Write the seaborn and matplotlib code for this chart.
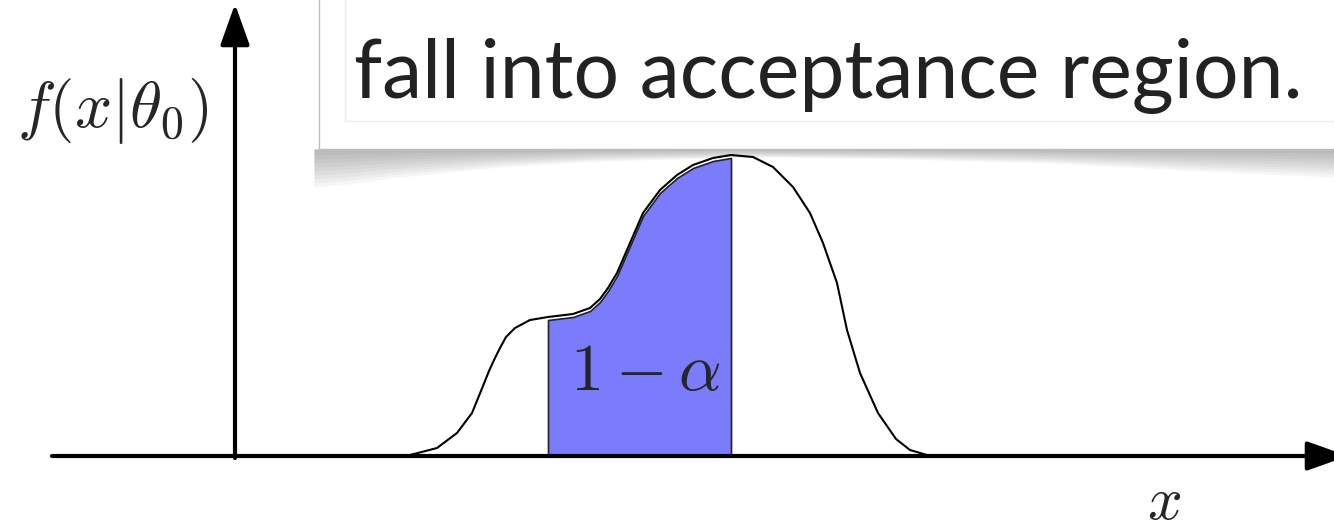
import numpy as np
import pandas as pd
import seaborn as sns
import matplotlib.pyplot as plt
from matplotlib.patches import Rectangle

# curve: x position and height above the x axis (pixels)
curve_x = [380, 405, 414, 437, 457, 472, 483, 489, 495, 500, 506, 515, 530, 548,
           573, 590, 600, 608, 617, 630, 643, 660, 677, 693, 713, 731, 753, 773,
           793, 810, 823, 837, 847, 860, 878, 896, 910, 927, 935]
curve_h = [0, 0, 2, 8, 23, 43, 70, 85, 98, 108, 119, 128, 136, 139,
           142, 148, 157, 168, 183, 213, 243, 266, 281, 291, 298, 301, 299, 289,
           269, 243, 213, 173, 126, 83, 43, 17, 6, 1, 0]

# acceptance region bounds
region_lo, region_hi = 548, 731

# callout shadow depth below the box
shadow_x = [314, 340, 400, 500, 600, 760, 900, 1050, 1200, 1334]
shadow_d = [38, 36, 28, 18, 12, 8, 10, 14, 22, 28]

df = pd.DataFrame({'x': curve_x, 'f': curve_h})

sns.set_style('white')
plt.rcParams['mathtext.fontset'] = 'cm'

fig = plt.figure(figsize=(13.34, 5.30), dpi=100)
ax = fig.add_axes([0, 0, 1, 1])
ax.set_xlim(0, 1334)
ax.set_ylim(-74, 456)
ax.axis('off')

# density curve
sns.lineplot(data=df, x='x', y='f', color='black', lw=1.5, ax=ax, zorder=3)

# shaded acceptance region
xs = np.array(curve_x)
hs = np.array(curve_h)
mask = (xs >= region_lo) & (xs <= region_hi)
ax.fill_between(xs[mask], 0, hs[mask] - 3, color='#7a7cfb', edgecolor='#222222',
                lw=1.2, zorder=2)
ax.text(645, 66, r'$1-\alpha$', fontsize=48, ha='center', va='baseline', zorder=4)

# axes arrows
arrow = dict(arrowstyle='-|>,head_length=1.4,head_width=0.5', lw=3, color='black',
             mutation_scale=18, shrinkA=0, shrinkB=0)
ax.annotate('', xy=(1348, 0), xytext=(52, 0), arrowprops=arrow,
            annotation_clip=False, zorder=5)
ax.annotate('', xy=(235, 452), xytext=(235, -2), arrowprops=arrow,
            annotation_clip=False, zorder=5)

ax.text(113, 345, r'$f(x|\theta_0)$', fontsize=47, ha='center', va='center')
ax.text(1164, -63, r'$x$', fontsize=44, ha='center', va='baseline')

# callout box with soft shadow
box_bottom = 456 - 149
sx = np.array(shadow_x)
sd = np.array(shadow_d)
for k in np.linspace(1.0, 0.15, 9):
    ax.fill_between(sx, box_bottom, box_bottom - sd * k, color='#555555',
                    alpha=0.05, lw=0, zorder=1)
ax.add_patch(Rectangle((319, box_bottom), 1100, 300, facecolor='white',
                       edgecolor='#bdbdbd', lw=1, zorder=6))
ax.add_patch(Rectangle((345, 456 - 121), 1100, 300, facecolor='none',
                       edgecolor='#ececec', lw=1, zorder=7))
ax.text(354, 358, 'fall into acceptance region.', fontsize=58, family='Lato',
        color='#222222', ha='left', va='baseline', zorder=8)

fig.savefig('out.png', dpi=100)
